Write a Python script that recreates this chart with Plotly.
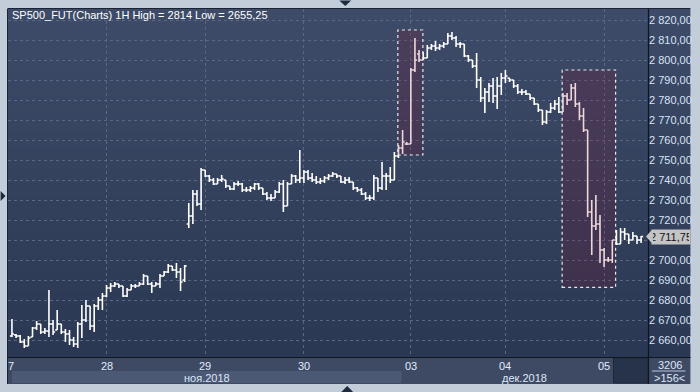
import plotly.graph_objects as go

# ---------------- data (hourly OHLC, SP500 futures) ----------------
opens = [2662, 2662.5, 2662, 2659, 2657, 2661.5, 2666, 2668, 2664, 2664.5,
         2668, 2665, 2668, 2664, 2663, 2660, 2658, 2668, 2670, 2677,
         2667, 2677, 2680, 2682, 2686, 2687, 2688, 2687, 2682, 2685,
         2687, 2687, 2688, 2692, 2688, 2687, 2688, 2692, 2694, 2697,
         2695, 2694, 2690, 2718, 2722, 2733, 2728, 2745, 2742, 2740,
         2738, 2740, 2740, 2737, 2735.5, 2738, 2738, 2735, 2735, 2736,
         2738, 2736, 2733, 2731, 2731, 2734, 2738, 2727, 2738, 2742,
         2740, 2741, 2744, 2741, 2740, 2739, 2739.5, 2741, 2742, 2743,
         2742, 2739, 2740, 2739, 2736, 2735, 2733, 2731, 2731, 2741,
         2736, 2742, 2742, 2740, 2752, 2756, 2758, 2758, 2795, 2803,
         2800, 2801, 2806, 2807, 2806, 2807, 2808, 2812, 2811, 2808,
         2808, 2802, 2800, 2797, 2790, 2781, 2784, 2787, 2782, 2787,
         2791, 2791, 2790, 2787, 2784, 2784, 2783, 2781, 2778, 2775,
         2769, 2774, 2776, 2778, 2774, 2782, 2780, 2786, 2778, 2772,
         2765, 2724, 2717, 2718, 2705, 2700, 2700, 2710, 2708, 2714,
         2713, 2710, 2712, 2710]
highs = [2670.5, 2663, 2662.5, 2660.5, 2662, 2666.5, 2669.5, 2668, 2666, 2685,
         2670, 2675, 2668, 2665.5, 2665, 2661.5, 2669, 2677.5, 2680, 2677,
         2678, 2681.5, 2683.5, 2687.5, 2688.5, 2689, 2688, 2687, 2686, 2688,
         2688, 2689, 2693, 2692, 2689, 2689, 2693, 2694.5, 2698, 2697,
         2698.5, 2696, 2697.5, 2728.5, 2735, 2735, 2746, 2745, 2742.5, 2741,
         2741, 2742.5, 2740, 2737, 2739, 2739.5, 2738.5, 2736.5, 2737, 2738.5,
         2738.5, 2736, 2734, 2733, 2735, 2739, 2740, 2739, 2743, 2742.5,
         2755, 2745, 2745, 2743.5, 2742, 2741, 2742, 2743, 2744, 2743,
         2742, 2741.5, 2741.5, 2739, 2736.5, 2736, 2734, 2732.5, 2742.5, 2741,
         2749, 2743.5, 2746.5, 2754, 2757.5, 2765, 2759, 2796, 2811, 2805,
         2804, 2807.5, 2808, 2809.5, 2808, 2809, 2813.5, 2814, 2812, 2809,
         2808, 2802.5, 2800, 2803.5, 2791.5, 2786, 2788.5, 2791, 2791.5, 2793.5,
         2795, 2791, 2790, 2788, 2785.5, 2785, 2783, 2781, 2778, 2775,
         2775, 2778.5, 2780, 2781.5, 2783.5, 2783.5, 2788, 2788.5, 2779, 2776,
         2765, 2730, 2732.5, 2722.5, 2706, 2701.5, 2710, 2715, 2716, 2716,
         2713, 2714, 2712, 2712]
lows = [2661.5, 2661, 2658.5, 2656, 2657, 2661.5, 2665, 2663, 2663, 2661.5,
        2662.5, 2665, 2663, 2659, 2657.5, 2656.5, 2656, 2661, 2669, 2665,
        2664, 2675, 2675, 2681.5, 2684, 2686.5, 2686, 2681.5, 2681.5, 2685,
        2686, 2687, 2687.5, 2687.5, 2683.5, 2687, 2686, 2692, 2693.5, 2694.5,
        2691, 2684.5, 2689, 2716, 2718, 2727, 2725, 2741.5, 2739, 2737.5,
        2738, 2739, 2736, 2735, 2735, 2737, 2734, 2734, 2734, 2735,
        2735, 2732.5, 2730, 2729.5, 2731, 2733.5, 2724, 2727, 2738, 2738.5,
        2738.5, 2738.5, 2740, 2739, 2738, 2738, 2738.5, 2740, 2741.5, 2741,
        2738.5, 2738, 2738.5, 2735, 2734, 2732.5, 2730, 2729.5, 2730, 2734,
        2735, 2735, 2738.5, 2740, 2751, 2753, 2757.5, 2758, 2794, 2799,
        2800, 2801, 2805, 2804.5, 2805, 2806, 2808, 2810, 2806.5, 2806,
        2801.5, 2799, 2796, 2786, 2779, 2773.5, 2779, 2778.5, 2775.5, 2782.5,
        2788.5, 2789, 2786, 2783, 2782.5, 2782.5, 2780, 2777.5, 2774, 2767.5,
        2768, 2773.5, 2775, 2773.5, 2774, 2777.5, 2780, 2776.5, 2770, 2764,
        2721.5, 2702.5, 2715, 2698.5, 2696.5, 2699, 2698.5, 2707.5, 2708, 2710,
        2708, 2710, 2708, 2708.5]
closes = [2663, 2662, 2659, 2657, 2661, 2666, 2668, 2664, 2664.5, 2668,
          2664, 2668, 2664, 2663, 2660, 2658, 2668, 2670, 2677, 2667,
          2677, 2680, 2682, 2686, 2687, 2688, 2687, 2682, 2685, 2687,
          2687, 2688, 2692, 2688, 2687, 2688, 2692, 2694, 2697, 2695,
          2694, 2689, 2697, 2722, 2733, 2728, 2745, 2742, 2740, 2738,
          2740, 2740.5, 2737, 2735.5, 2738, 2738, 2735, 2735, 2736, 2738,
          2736, 2733, 2731, 2731, 2734, 2738, 2727, 2738, 2742, 2740,
          2741, 2744, 2741, 2740, 2739, 2739.5, 2741, 2742, 2743, 2742,
          2739, 2740, 2739, 2736, 2735, 2733, 2731, 2731, 2741, 2736,
          2742, 2742, 2740, 2752, 2756, 2759, 2758, 2795, 2800, 2800,
          2801, 2806, 2807, 2806, 2807, 2808, 2812, 2811, 2808, 2808,
          2802, 2800, 2797, 2790, 2781, 2784, 2787, 2782, 2787, 2791,
          2792, 2790, 2787, 2784, 2784, 2783, 2781, 2778, 2775, 2769,
          2774, 2776, 2778, 2774, 2782, 2780, 2786, 2778, 2772, 2765,
          2724, 2717, 2718, 2705, 2700, 2700, 2710, 2708, 2714, 2713,
          2710, 2712, 2710, 2711.75]
bar_index = list(range(len(opens)))

day_labels = ["28", "29", "30", "03", "04", "05"]
day_index = [23, 47, 71, 97, 120, 144]
month_labels = ["ноя.2018", "дек.2018"]
month_spans = [(0.0, 94.7), (94.7, 154.676)]
price_ticks = list(range(2660, 2821, 10))
last_price = 2711.75
title_text = "SP500_FUT(Charts) 1H High = 2814 Low = 2655,25"
highlight_boxes = [(93.84, 99.93, 2752.5, 2815.0), (133.8, 146.8, 2686.35, 2795.0)]
corner_texts = ["3206", ">156<"]

# ---------------- layout helpers ----------------
W, H = 700, 392
ML, MR, MT, MB = 8, 43, 9, 35
PW, PH = W - ML - MR, H - MT - MB
X_RANGE = [-0.9592, 154.676]
Y_RANGE = [2651.5, 2825.5]
FONT = "Liberation Sans Narrow, Arial Narrow, Liberation Sans, Arial, sans-serif"


def px(x):
    return (x - ML) / PW


def py(y):
    return (H - MB - y) / PH


def fmt_price(v):
    s = f"{v:,.2f}"
    return s.replace(",", " ").replace(".", ",")


fig = go.Figure()
fig.add_trace(go.Ohlc(
    x=bar_index, open=opens, high=highs, low=lows, close=closes,
    increasing=dict(line=dict(color="#ffffff", width=1.6)),
    decreasing=dict(line=dict(color="#ffffff", width=1.6)),
    tickwidth=0.5, hoverinfo="skip", showlegend=False,
))

shapes = []
# vertical gradient background for chart + price axis
n_bands = 48
top_c = (61, 75, 104)
bot_c = (43, 56, 83)
for k in range(n_bands):
    t = k / (n_bands - 1)
    c = tuple(round(top_c[i] + (bot_c[i] - top_c[i]) * t) for i in range(3))
    shapes.append(dict(type="rect", xref="paper", yref="paper",
                       x0=0, x1=px(W), y0=1 - k / n_bands, y1=1 - (k + 1) / n_bands - 0.002,
                       fillcolor="rgb(%d,%d,%d)" % c, line=dict(width=0), layer="below"))
# x-axis strip
shapes.append(dict(type="rect", xref="paper", yref="paper", x0=0, x1=px(W), y0=py(384), y1=py(357),
                   fillcolor="#3e4a64", line=dict(width=0), layer="below"))
# month band (November) lighter
shapes.append(dict(type="rect", xref="x", yref="paper", x0=month_spans[0][0], x1=month_spans[0][1],
                   y0=py(383), y1=py(371), fillcolor="#4b5975", line=dict(width=0), layer="below"))
# dark box at right end of x strip
shapes.append(dict(type="rect", xref="paper", yref="paper", x0=px(622), x1=px(657), y0=py(383), y1=py(358),
                   fillcolor="#27334b", line=dict(color="#1e283b", width=1), layer="below"))
# separator lines
shapes.append(dict(type="line", xref="paper", yref="paper", x0=0, x1=px(W), y0=py(357.5), y1=py(357.5),
                   line=dict(color="#10151f", width=1.2)))
shapes.append(dict(type="line", xref="paper", yref="paper", x0=px(657.5), x1=px(657.5), y0=py(384), y1=py(9),
                   line=dict(color="#10151f", width=1.2)))
shapes.append(dict(type="line", xref="paper", yref="paper", x0=0, x1=px(W), y0=py(8.5), y1=py(8.5),
                   line=dict(color="#1b2231", width=1)))
shapes.append(dict(type="line", xref="paper", yref="paper", x0=px(7.5), x1=px(7.5), y0=py(384), y1=py(8.5),
                   line=dict(color="#1b2231", width=1)))
# corner separator line
shapes.append(dict(type="line", xref="paper", yref="paper", x0=px(661), x1=px(695), y0=py(371), y1=py(371),
                   line=dict(color="#b8c4d8", width=1)))
# highlight boxes
for (x0, x1, y0, y1) in highlight_boxes:
    shapes.append(dict(type="rect", xref="x", yref="y", x0=x0, x1=x1, y0=y0, y1=y1,
                       fillcolor="rgba(150,0,30,0.16)",
                       line=dict(color="#e8e8e8", width=1.2, dash="dot"), layer="above"))
# frame triangles
def tri(points):
    d = "M " + " L ".join(f"{px(a):.5f},{py(b):.5f}" for a, b in points) + " Z"
    return dict(type="path", xref="paper", yref="paper", path=d,
                fillcolor="#1f2a3d", line=dict(width=0))
shapes.append(tri([(344, 0.5), (356, 0.5), (350, 6)]))
shapes.append(tri([(346, 392), (358, 392), (352, 386)]))
shapes.append(tri([(0.5, 191), (0.5, 201), (5.5, 196)]))
# last-price pointer
shapes.append(dict(type="path", xref="paper", yref="y",
                   path=f"M {px(655):.5f},{last_price} L {px(661):.5f},{last_price + 3.4} L {px(661):.5f},{last_price - 3.4} Z",
                   fillcolor="#c4c4c4", line=dict(width=0)))

annotations = []
annotations.append(dict(text=title_text, xref="paper", yref="paper", x=px(10), y=py(15),
                        xanchor="left", yanchor="middle", showarrow=False,
                        font=dict(family=FONT, size=11, color="#ffffff")))
for lab, pos in zip(day_labels, day_index):
    annotations.append(dict(text=lab, xref="x", yref="paper", x=pos, y=py(365.5),
                            xanchor="center", yanchor="middle", showarrow=False,
                            font=dict(family=FONT, size=11, color="#e2eafc")))
annotations.append(dict(text="7", xref="paper", yref="paper", x=px(11), y=py(365.5),
                        xanchor="center", yanchor="middle", showarrow=False,
                        font=dict(family=FONT, size=11, color="#e2eafc")))
for lab, (a, b) in zip(month_labels, month_spans):
    annotations.append(dict(text=lab, xref="x", yref="paper", x=(a + b) / 2, y=py(377.5),
                            xanchor="center", yanchor="middle", showarrow=False,
                            font=dict(family=FONT, size=11, color="#dfe7f8")))
annotations.append(dict(text=corner_texts[0], xref="paper", yref="paper", x=px(679), y=py(364.5),
                        xanchor="center", yanchor="middle", showarrow=False,
                        font=dict(family=FONT, size=11, color="#dfe7f8")))
annotations.append(dict(text=corner_texts[1], xref="paper", yref="paper", x=px(679), y=py(378),
                        xanchor="center", yanchor="middle", showarrow=False,
                        font=dict(family=FONT, size=11, color="#dfe7f8")))
annotations.append(dict(text=fmt_price(last_price), xref="paper", yref="y",
                        x=px(660.5), y=last_price, xanchor="left", yanchor="middle", showarrow=False,
                        bgcolor="#c4c4c4", borderpad=1, width=36,
                        font=dict(family=FONT, size=11, color="#111111")))

# the price-axis label hidden by the last-price box is left blank
ticktext = ["" if abs(v - last_price) < 5 else fmt_price(v) for v in price_ticks]

fig.update_layout(
    width=W, height=H,
    margin=dict(l=ML, r=MR, t=MT, b=MB, pad=0),
    paper_bgcolor="#c3ccd9",
    plot_bgcolor="rgba(0,0,0,0)",
    shapes=shapes, annotations=annotations,
    showlegend=False,
    font=dict(family=FONT, size=11),
    xaxis=dict(range=X_RANGE, tickvals=day_index, showticklabels=False, ticks="",
               showgrid=True, gridcolor="#5a6783", griddash="3px,3px", gridwidth=1,
               zeroline=False, showline=False, rangeslider=dict(visible=False), fixedrange=True),
    yaxis=dict(range=Y_RANGE, side="right", tickvals=price_ticks,
               ticktext=ticktext, ticks="",
               tickfont=dict(family=FONT, size=11, color="#d9e3f5"),
               showgrid=True, gridcolor="#5a6783", griddash="3px,3px", gridwidth=1,
               zeroline=False, showline=False, fixedrange=True),
)

fig.write_html("out.html")
